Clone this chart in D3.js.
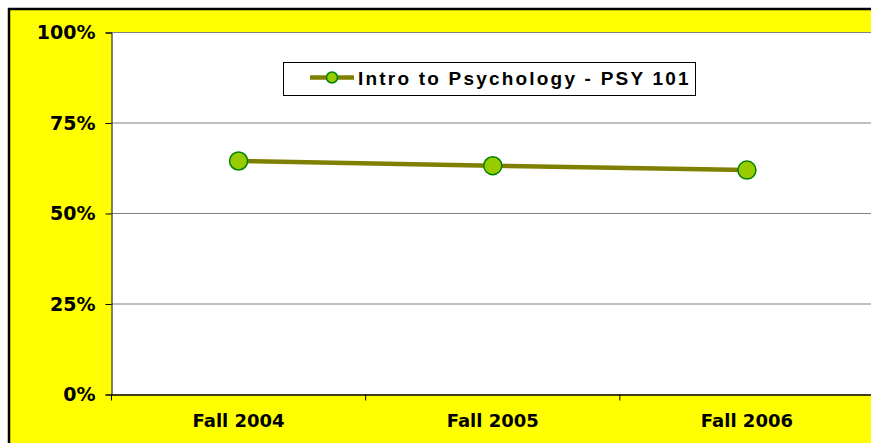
<!DOCTYPE html>
<html><head><meta charset="utf-8">
<script src="https://cdn.jsdelivr.net/npm/d3@7/dist/d3.min.js"></script>
<style>body{margin:0;padding:0;overflow:hidden;background:#fff}</style>
</head><body>
<svg id="c" width="871" height="443"></svg>
<script>
const categories = ["Fall 2004", "Fall 2005", "Fall 2006"];
const values = [0.645, 0.632, 0.620];
const seriesName = "Intro to Psychology - PSY 101";
const yTicks = [0, 0.25, 0.5, 0.75, 1];

(function(){
const svg = d3.select("#c");
svg.append("rect").attr("x",0).attr("y",0).attr("width",871).attr("height",443).attr("fill","#fff");
svg.append("rect").attr("x",9).attr("y",9).attr("width",900).attr("height",460)
  .attr("fill","#ffff00").attr("stroke","#000").attr("stroke-width",2.5);

const pL = 111.5, pR = 874, pT = 32.5, pB = 394.5;
const x = d3.scaleBand().domain(categories).range([pL, pR]);
const y = d3.scaleLinear().domain([0,1]).range([pB, pT]);

svg.append("rect").attr("x",pL).attr("y",pT).attr("width",pR-pL).attr("height",pB-pT).attr("fill","#fff");

svg.append("g").selectAll("line").data(yTicks.filter(d=>d>0)).join("line")
  .attr("x1",pL).attr("x2",pR).attr("y1",d=>y(d)).attr("y2",d=>y(d))
  .attr("stroke","#808080").attr("stroke-width",1.2);

const yAxis = d3.axisLeft(y).tickValues(yTicks).tickFormat(d3.format(".0%")).tickSize(6).tickPadding(10);
const gy = svg.append("g").attr("transform",`translate(${pL},0)`).call(yAxis);
gy.select(".domain").attr("stroke","#000").attr("stroke-width",1);
gy.selectAll(".tick line").attr("stroke","#000");
gy.selectAll("text").attr("font-family","DejaVu Sans").attr("font-weight","bold").attr("font-size","19px").attr("fill","#000");

const xAxis = d3.axisBottom(x).tickSize(0).tickPadding(20);
const gx = svg.append("g").attr("transform",`translate(0,${pB})`).call(xAxis);
gx.select(".domain").attr("stroke","#000").attr("stroke-width",1.5);
gx.selectAll("text").attr("font-family","DejaVu Sans").attr("font-weight","bold").attr("font-size","18px").attr("fill","#000");
const bounds = categories.map(c=>x(c)).concat([x(categories[categories.length-1])+x.bandwidth()]);
svg.append("g").selectAll("line").data(bounds).join("line")
  .attr("x1",d=>d).attr("x2",d=>d).attr("y1",pB).attr("y2",pB+6)
  .attr("stroke","#000").attr("stroke-width",1);

const cx = (d,i)=>x(categories[i])+x.bandwidth()/2;
const line = d3.line().x((d,i)=>cx(d,i)).y(d=>y(d));
svg.append("path").datum(values).attr("d",line).attr("fill","none")
  .attr("stroke","#808000").attr("stroke-width",4.5);
svg.append("g").selectAll("circle").data(values).join("circle")
  .attr("cx",(d,i)=>cx(d,i)).attr("cy",d=>y(d)).attr("r",9)
  .attr("fill","#99cc00").attr("stroke","#008000").attr("stroke-width",1.5);

const lg = svg.append("g");
lg.append("rect").attr("x",283.5).attr("y",62.5).attr("width",412).attr("height",33)
  .attr("fill","#fff").attr("stroke","#000").attr("stroke-width",1);
lg.append("line").attr("x1",310).attr("x2",354).attr("y1",77.5).attr("y2",77.5)
  .attr("stroke","#808000").attr("stroke-width",4.5);
lg.append("circle").attr("cx",332).attr("cy",77.5).attr("r",5.5)
  .attr("fill","#99cc00").attr("stroke","#008000").attr("stroke-width",1.5);
lg.append("text").attr("x",358).attr("y",85).text(seriesName)
  .attr("font-family","Liberation Sans, Arial").attr("font-weight","bold").attr("font-size","19px")
  .attr("letter-spacing","2.2px").attr("fill","#000");
})();
</script>
</body></html>
